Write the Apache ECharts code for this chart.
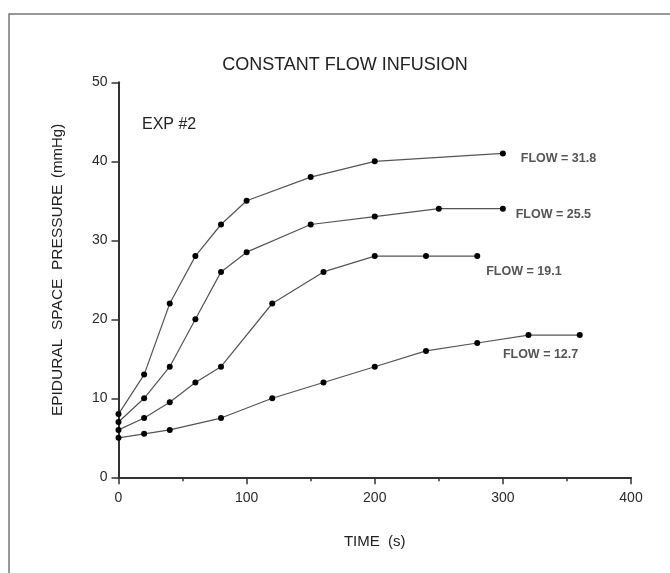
<!DOCTYPE html>
<html>
<head>
<meta charset="utf-8">
<script src="https://cdn.jsdelivr.net/npm/echarts@6/dist/echarts.min.js"></script>
<style>
  html, body { margin: 0; padding: 0; background: #fff; }
  #chart { width: 670px; height: 573px; }
</style>
</head>
<body>
<div id="chart"></div>
<script>
const flowLabels = ['FLOW = 31.8', 'FLOW = 25.5', 'FLOW = 19.1', 'FLOW = 12.7']

const time318 = [0, 20, 40, 60, 80, 100, 150, 200, 300]
const press318 = [8, 13, 22, 28, 32, 35, 38, 40, 41]

const time255 = [0, 20, 40, 60, 80, 100, 150, 200, 250, 300]
const press255 = [7, 10, 14, 20, 26, 28.5, 32, 33, 34, 34]

const time191 = [0, 20, 40, 60, 80, 120, 160, 200, 240, 280]
const press191 = [6, 7.5, 9.5, 12, 14, 22, 26, 28, 28, 28]

const time127 = [0, 20, 40, 80, 120, 160, 200, 240, 280, 320, 360]
const press127 = [5, 5.5, 6, 7.5, 10, 12, 14, 16, 17, 18, 18]

const xTicks = [0, 100, 200, 300, 400]
const yTicks = [0, 10, 20, 30, 40, 50]

// where each FLOW label sits, in data units (left edge, vertical centre)
const labelAt = [[314, 40.4], [310, 33.2], [287, 26.1], [300, 15.6]]

const pairs = (xs, ys) => xs.map((x, i) => [x, ys[i]])
const seriesData = [
  pairs(time318, press318),
  pairs(time255, press255),
  pairs(time191, press191),
  pairs(time127, press127)
]

const axisColor = '#333'
const textColor = '#2a2a2a'
const font = 'Liberation Sans, Arial, sans-serif'

const chart = echarts.init(document.getElementById('chart'))

chart.setOption({
  animation: false,
  backgroundColor: '#fff',
  textStyle: { fontFamily: font },
  title: {
    text: 'CONSTANT FLOW INFUSION',
    left: 340,
    top: 51,
    textAlign: 'center',
    textStyle: { fontSize: 18, fontWeight: 'normal', color: '#222', fontFamily: font }
  },
  graphic: [
    {
      type: 'rect',
      shape: { x: 9, y: 14, width: 700, height: 620 },
      style: { fill: 'none', stroke: '#777', lineWidth: 1.5 },
      silent: true
    },
    {
      type: 'text',
      left: 142,
      top: 117,
      style: { text: 'EXP #2', fill: '#222', font: '16px ' + font }
    },
    {
      type: 'text',
      x: 58,
      y: 270,
      rotation: Math.PI / 2,
      style: {
        text: '{a|EPIDURAL  SPACE  PRESSURE}  {b|(mmHg)}',
        align: 'center',
        verticalAlign: 'middle',
        rich: {
          a: { fontSize: 15.5, fill: '#222', fontFamily: font },
          b: { fontSize: 15, fill: '#222', fontFamily: font }
        }
      }
    }
  ],
  grid: { left: 118.5, right: 39, top: 82.3, bottom: 95.7 },
  xAxis: {
    type: 'value',
    min: xTicks[0],
    max: xTicks[xTicks.length - 1],
    interval: 100,
    name: 'TIME  (s)',
    nameLocation: 'middle',
    nameGap: 57,
    nameTextStyle: { fontSize: 15, color: '#222' },
    axisLine: { lineStyle: { color: axisColor, width: 2 } },
    axisTick: { show: true, length: 7, lineStyle: { color: axisColor, width: 1.5 } },
    minorTick: { show: true, splitNumber: 2, length: 4, lineStyle: { color: axisColor, width: 1.5 } },
    axisLabel: { fontSize: 14, color: textColor, margin: 14 },
    splitLine: { show: false }
  },
  yAxis: {
    type: 'value',
    min: yTicks[0],
    max: yTicks[yTicks.length - 1],
    interval: 10,
    axisLine: { show: true, lineStyle: { color: axisColor, width: 2 } },
    axisTick: { show: true, length: 7, lineStyle: { color: axisColor, width: 1.5 } },
    axisLabel: { fontSize: 14, color: textColor, margin: 11 },
    splitLine: { show: false }
  },
  series: seriesData.map((data, i) => ({
    type: 'line',
    data,
    symbol: 'circle',
    symbolSize: 6,
    itemStyle: { color: '#000' },
    lineStyle: { color: '#555', width: 1.2 },
    z: 3,
    markPoint: {
      symbol: 'circle',
      symbolSize: 0,
      data: [{ coord: labelAt[i] }],
      label: {
        show: true,
        formatter: flowLabels[i],
        position: 'right',
        distance: 0,
        fontSize: 12.5,
        fontWeight: 'bold',
        color: '#555'
      }
    }
  }))
})
</script>
</body>
</html>
